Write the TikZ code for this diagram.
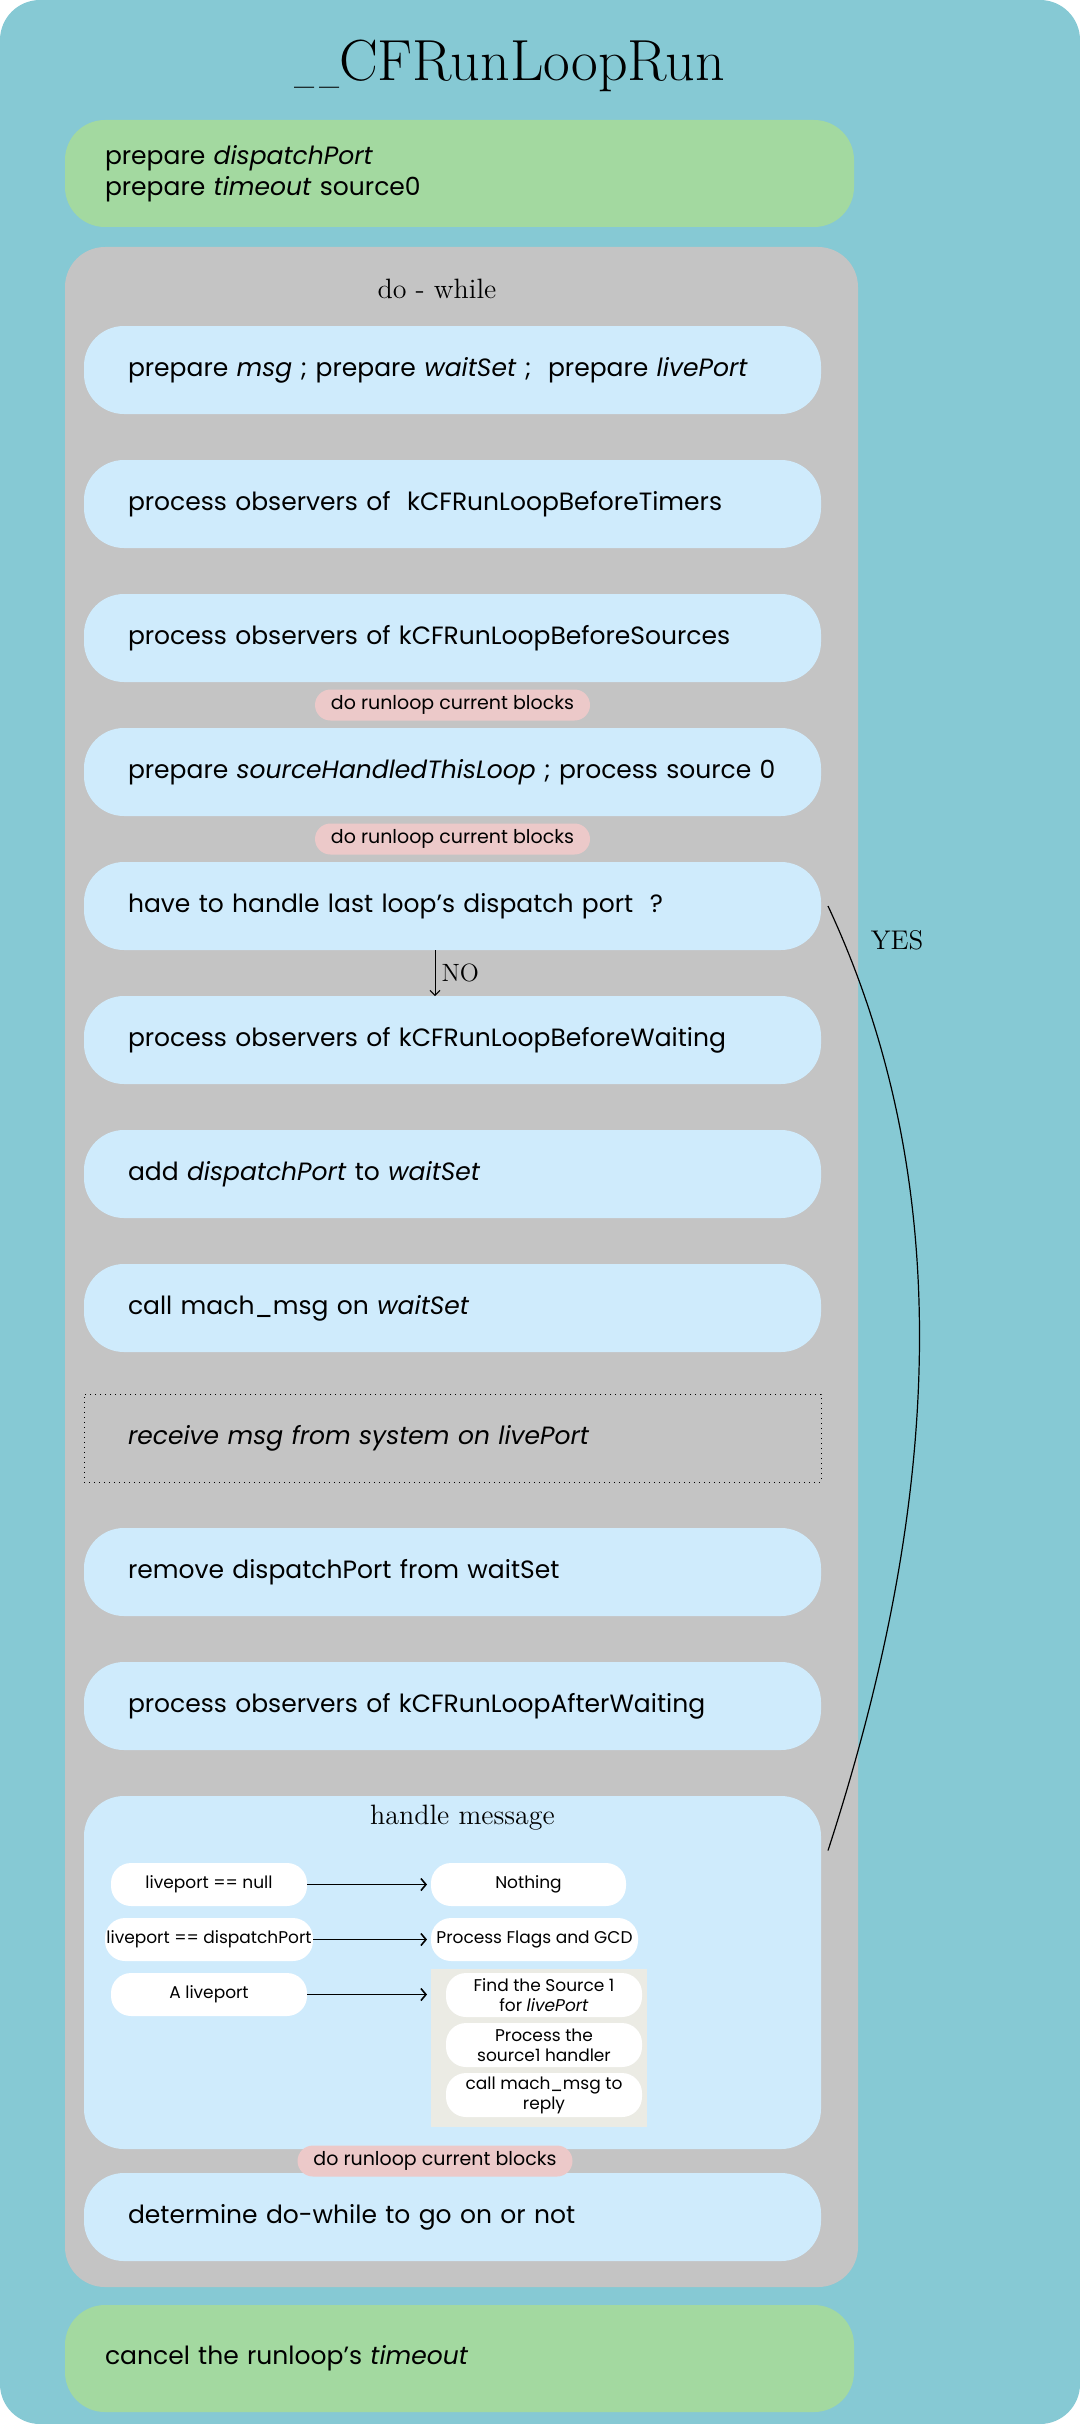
\documentclass[tikz,border=0pt]{standalone}
\usepackage{fontspec}
\usepackage{xcolor}
\usepackage{tikz}
\usetikzlibrary{positioning, arrows.meta, calc}
\newfontfamily\uifont{Poppins}
\definecolor{outerteal}{HTML}{86C9D4}
\definecolor{prepgreen}{HTML}{A3D9A0}
\definecolor{loopgray}{HTML}{C4C4C4}
\definecolor{stepblue}{HTML}{CFEBFC}
\definecolor{blockpink}{HTML}{ECC9C9}
\definecolor{srcgray}{HTML}{EBEBE4}

\tikzset{
  prepbox/.style={fill=prepgreen, rounded corners=20pt, anchor=north west,
    text width=354.5pt, inner xsep=20pt, inner ysep=0pt, minimum height=53.5pt,
    outer sep=0pt, align=left, font=\uifont\fontsize{12.5}{15.5}\selectfont},
  stepbox/.style={fill=stepblue, rounded corners=20pt, minimum height=44pt,
    text width=324.5pt, inner xsep=22pt, inner ysep=0pt, outer sep=0pt, align=left,
    font=\uifont\fontsize{12.5}{15}\selectfont},
  waitbox/.style={stepbox, fill=none, draw, dotted, sharp corners, line width=0.5pt},
  blockpill/.style={fill=blockpink, rounded corners=7.75pt, minimum width=137.5pt,
    minimum height=15.5pt, inner sep=0pt, font=\uifont\fontsize{9.5}{11}\selectfont},
  casepill/.style={fill=white, rounded corners=10pt, minimum height=21.5pt,
    inner sep=0pt, outer sep=0pt, align=center, font=\uifont\fontsize{8.5}{10}\selectfont},
  caselink/.style={-{Straight Barb[length=2.5pt,width=6pt]}, line width=0.8pt},
  seriflabel/.style={font=\fontsize{14}{17}\selectfont},
}

\begin{document}
\begin{tikzpicture}[x=1pt, y=1pt]
  \useasboundingbox (0,0) rectangle (540,-1212);
  \fill[outerteal, rounded corners=20pt] (0,0) rectangle (540,-1212);

  \node[font=\fontsize{29}{34}\selectfont] (title) at (255,-33)
    {\scalebox{0.5}[1]{\_}\kern2pt\scalebox{0.5}[1]{\_}CFRunLoopRun};
  \node[prepbox] (prep) at (32.5,-60) {prepare \textit{dispatchPort}\\prepare \textit{timeout} source0};

  % do - while panel
  \node[fill=loopgray, rounded corners=20pt, anchor=north west, minimum width=396.5pt,
        minimum height=1020pt, inner sep=0pt, outer sep=0pt] (loop) at (32.5,-123.5) {};
  \node[seriflabel] (dowhile) at (218.5,-144.5) {do - while};

  \node[stepbox, anchor=north west] (b1) at (42,-163) {prepare \textit{msg} ; prepare \textit{waitSet} ;~ prepare \textit{livePort}};
  \node[stepbox, below=23pt of b1] (b2) {process observers of~ kCFRunLoopBeforeTimers};
  \node[stepbox, below=23pt of b2] (b3) {process observers of kCFRunLoopBeforeSources};
  \node[stepbox, below=23pt of b3] (b4) {prepare \textit{sourceHandledThisLoop} ; process source 0};
  \node[stepbox, below=23pt of b4] (b5) {have to handle last loop’s dispatch port~ ?};
  \node[stepbox, below=23pt of b5] (b6) {process observers of kCFRunLoopBeforeWaiting};
  \node[stepbox, below=23pt of b6] (b7) {add \textit{dispatchPort} to \textit{waitSet}};
  \node[stepbox, below=23pt of b7] (b8) {call mach\_msg on \textit{waitSet}};
  \node[waitbox, below=21pt of b8] (b9) {\textit{receive msg from system on livePort}};
  \node[stepbox, below=23pt of b9] (b10) {remove dispatchPort from waitSet};
  \node[stepbox, below=23pt of b10] (b11) {process observers of kCFRunLoopAfterWaiting};
  \node[stepbox, minimum height=176.5pt, below=23pt of b11] (handle) {};
  \node[stepbox, below=12pt of handle] (b13) {determine do-while to go on or not};

  \node[blockpill] (blk1) at ($(b3.south)!0.5!(b4.north)$) {do runloop current blocks};
  \node[blockpill] (blk2) at ($(b4.south)!0.5!(b5.north)$) {do runloop current blocks};
  \node[blockpill] (blk3) at ($(handle.south)!0.5!(b13.north)+(-8.75,0)$) {do runloop current blocks};

  % handle message
  \node[seriflabel] (hmsg) at ($(handle.north)+(5,-11)$) {handle message};
  \node[casepill, minimum width=98pt] (l1) at ($(handle.north west)+(62.5,-44.25)$) {liveport == null};
  \node[casepill, minimum width=104pt, below=6pt of l1] (l2) {liveport == dispatchPort};
  \node[casepill, minimum width=98pt, below=6pt of l2] (l3) {A liveport};
  \node[casepill, minimum width=97.5pt, right=62pt of l1] (r1) {Nothing};
  \node[casepill, minimum width=103.5pt, anchor=west] (r2) at (r1.west |- l2) {Process Flags and GCD};
  \node[fill=srcgray, minimum width=108pt, minimum height=79pt, inner sep=0pt,
        anchor=north west] (srcs) at ($(r1.west |- l3.north)+(0,2)$) {};
  \node[casepill, minimum width=98pt, minimum height=22pt, anchor=north west] (s1)
        at ($(srcs.north west)+(7.5,-2)$) {Find the Source 1\\for \textit{livePort}};
  \node[casepill, minimum width=98pt, minimum height=22pt, below=3pt of s1] (s2) {Process the\\source1 handler};
  \node[casepill, minimum width=98pt, minimum height=22pt, below=3pt of s2] (s3) {call mach\_msg to\\reply};

  \draw[caselink] (l1.east) -- ([xshift=-2pt]r1.west);
  \draw[caselink] (l2.east) -- ([xshift=-2pt]r2.west);
  \draw[caselink] (l3.east) -- ($(srcs.west |- l3)+(-2,0)$);

  % NO / YES
  \draw[-{Straight Barb[length=2.5pt,width=5pt]}, line width=0.5pt]
    ([xshift=-8.75pt]b5.south) -- ([xshift=-8.75pt]b6.north)
    node[midway, right, inner sep=3pt, font=\fontsize{12.5}{15}\selectfont] {NO};
  \draw[line width=0.6pt] ([xshift=3.5pt]b5.east) to[out=-65, in=72, looseness=0.9]
    ([shift={(3.5pt,61pt)}]handle.east);
  \node[font=\fontsize{13.5}{16}\selectfont] (yes) at (448.5,-470) {YES};

  \node[prepbox] (cancel) at ($(loop.south west)+(0,-9)$) {cancel the runloop’s \textit{timeout}};
\end{tikzpicture}
\end{document}
